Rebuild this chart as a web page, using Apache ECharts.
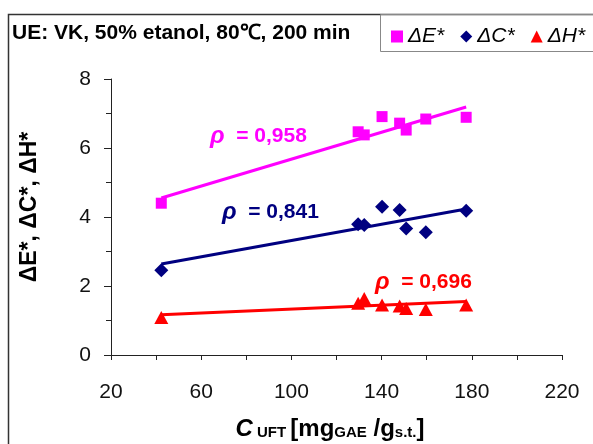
<!DOCTYPE html>
<html>
<head>
<meta charset="utf-8">
<script src="https://cdn.jsdelivr.net/npm/echarts@6/dist/echarts.min.js"></script>
<style>html,body{margin:0;padding:0;background:#fff;}#c{width:593px;height:444px;}</style>
</head>
<body>
<div id="c"></div>
<script>
// Data
var cUFT   = [42.3, 129.6, 132.3, 140.2, 148.0, 150.9, 159.6, 177.5];
var deltaE = [4.40, 6.47, 6.38, 6.91, 6.72, 6.52, 6.84, 6.89];
var deltaC = [2.46, 3.79, 3.77, 4.30, 4.20, 3.67, 3.56, 4.18];
var deltaH = [1.09, 1.50, 1.64, 1.45, 1.42, 1.35, 1.32, 1.45];
// trend line end points
var trendX = [42.3, 177.5];
var trendE = [4.55, 7.19];
var trendC = [2.64, 4.23];
var trendH = [1.17, 1.55];
var seriesNames = ['ΔE*', 'ΔC*', 'ΔH*'];
var rhoLabels = ['ρ', '= 0,958', '= 0,841', '= 0,696'];
var xTicks = [20, 60, 100, 140, 180, 220];
var yTicks = [0, 2, 4, 6, 8];

var colors = ['#FF00FF', '#000080', '#FF0000'];
function pairs(xs, ys){ return xs.map(function(x,i){ return [x, ys[i]]; }); }

var chart = echarts.init(document.getElementById('c'), null, {renderer:'canvas'});
var font = '"Liberation Sans", Arial, sans-serif';

var option = {
  backgroundColor: '#fff',
  animation: false,
  grid: {left: 111, right: 31, top: 79, bottom: 89},
  xAxis: {
    type: 'value', min: 20, max: 220, interval: 20,
    axisLine: {lineStyle: {color: '#222', width: 1}},
    axisTick: {length: 5, lineStyle: {color: '#222'}},
    splitLine: {show: false},
    axisLabel: {
      color: '#111', fontSize: 21, fontFamily: font, margin: 27,
      formatter: function(v){ return xTicks.indexOf(v) >= 0 ? String(v) : ''; }
    }
  },
  yAxis: {
    type: 'value', min: 0, max: 8, interval: 2,
    axisLine: {show: true, lineStyle: {color: '#222', width: 1}},
    axisTick: {show: true, length: 7, lineStyle: {color: '#222'}},
    minorTick: {show: true, splitNumber: 2, length: 5, lineStyle: {color: '#222'}},
    splitLine: {show: false},
    axisLabel: {
      color: '#111', fontSize: 21, fontFamily: font, margin: 20,
      formatter: function(v){ return yTicks.indexOf(v) >= 0 ? String(v) : ''; }
    }
  },
  legend: {
    data: seriesNames,
    left: 386, top: 21, orient: 'horizontal',
    itemWidth: 12, itemHeight: 12, itemGap: 16,
    textStyle: {fontSize: 21, fontStyle: 'italic', fontFamily: font, color: '#000'},
    selectedMode: false
  },
  series: [
    {type: 'line', data: pairs(trendX, trendE), symbol: 'none', lineStyle: {color: colors[0], width: 3}, z: 1, silent: true},
    {type: 'line', data: pairs(trendX, trendC), symbol: 'none', lineStyle: {color: colors[1], width: 3}, z: 1, silent: true},
    {type: 'line', data: pairs(trendX, trendH), symbol: 'none', lineStyle: {color: colors[2], width: 3}, z: 1, silent: true},
    {name: seriesNames[0], type: 'scatter', data: pairs(cUFT, deltaE), symbol: 'rect', symbolSize: 11, itemStyle: {color: colors[0], opacity: 1}, z: 3},
    {name: seriesNames[1], type: 'scatter', data: pairs(cUFT, deltaC), symbol: 'diamond', symbolSize: 14, itemStyle: {color: colors[1], opacity: 1}, z: 3},
    {name: seriesNames[2], type: 'scatter', data: pairs(cUFT, deltaH), symbol: 'triangle', symbolSize: [14, 13], itemStyle: {color: colors[2], opacity: 1}, z: 3}
  ],
  graphic: [
    {type: 'rect', shape: {x: 8.5, y: 14.5, width: 600, height: 460}, style: {fill: null, stroke: '#333', lineWidth: 1.5}, z: 0, silent: true},
    {type: 'rect', shape: {x: 380.5, y: 14.5, width: 230, height: 37}, style: {fill: null, stroke: '#888', lineWidth: 1}, z: 0, silent: true},
    {type: 'text', x: 12, y: 33, style: {text: 'UE: VK, 50% etanol, 80℃, 200 min', font: 'bold 21px ' + font, fill: '#000', verticalAlign: 'middle'}},
    {type: 'text', x: 30, y: 207, rotation: Math.PI/2,
      style: {text: 'ΔE*, ΔC*, ΔH*', font: 'bold 23px ' + font, fill: '#000', align: 'center', verticalAlign: 'middle'}},
    {type: 'text', x: 330, y: 429,
      style: {
        text: '{c|C}{s| UFT }{a|[mg}{s|GAE}{a| /g}{s|s.t.}{a|]}',
        align: 'center', verticalAlign: 'middle',
        rich: {
          c: {font: 'italic bold 24px ' + font, fill: '#000', verticalAlign: 'bottom', height: 26},
          a: {font: 'bold 24px ' + font, fill: '#000', verticalAlign: 'bottom', height: 26},
          s: {font: 'bold 15px ' + font, fill: '#000', verticalAlign: 'bottom', height: 19}
        }
      }},
    {type: 'text', left: 210, top: 124, style: {text: '{r|' + rhoLabels[0] + '}{t|  ' + rhoLabels[1] + '}', rich: {
      r: {font: 'italic bold 24px ' + font, fill: colors[0]}, t: {font: 'bold 21px ' + font, fill: colors[0]}}}},
    {type: 'text', left: 222, top: 200, style: {text: '{r|' + rhoLabels[0] + '}{t|  ' + rhoLabels[2] + '}', rich: {
      r: {font: 'italic bold 24px ' + font, fill: colors[1]}, t: {font: 'bold 21px ' + font, fill: colors[1]}}}},
    {type: 'text', left: 375, top: 270, style: {text: '{r|' + rhoLabels[0] + '}{t|  ' + rhoLabels[3] + '}', rich: {
      r: {font: 'italic bold 24px ' + font, fill: colors[2]}, t: {font: 'bold 21px ' + font, fill: colors[2]}}}}
  ]
};
chart.setOption(option);
</script>
</body>
</html>
